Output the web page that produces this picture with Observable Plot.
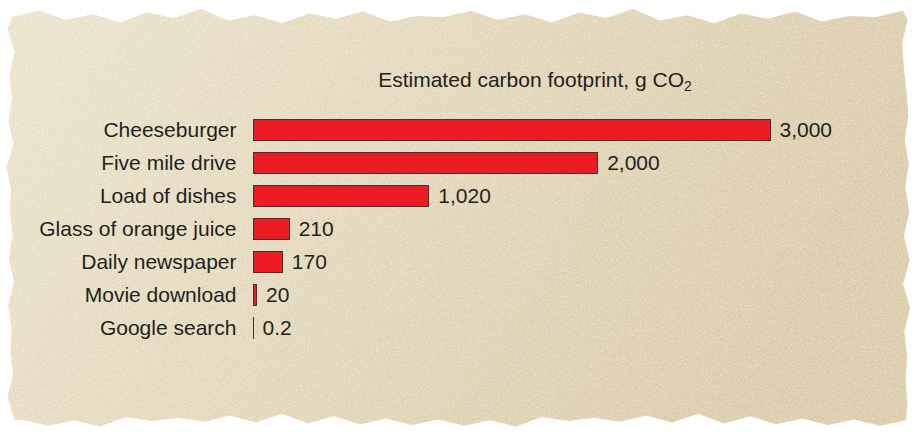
<!DOCTYPE html>
<html><head><meta charset="utf-8">
<script src="https://cdn.jsdelivr.net/npm/d3@7"></script>
<script src="https://cdn.jsdelivr.net/npm/@observablehq/plot@0.6"></script>
<style>
body{margin:0;background:#fff;}
#wrap{position:relative;width:917px;height:434px;overflow:hidden;font-family:"Liberation Sans",Arial,sans-serif;}
#paper{position:absolute;left:0;top:0;}
#chart{position:absolute;left:0;top:0;}
</style></head><body>
<div id="wrap">
<svg id="paper" width="917" height="434">
  <defs>
    <linearGradient id="pg" x1="0" y1="0" x2="1" y2="0.3">
      <stop offset="0" stop-color="#ece4cf"/>
      <stop offset="0.5" stop-color="#e4d9bd"/>
      <stop offset="1" stop-color="#dccdad"/>
    </linearGradient>
    <filter id="tex" x="0" y="0" width="100%" height="100%">
      <feTurbulence type="fractalNoise" baseFrequency="0.55" numOctaves="4" seed="7" result="n"/>
      <feColorMatrix in="n" type="matrix" values="0 0 0 0 1  0 0 0 0 1  0 0 0 0 0.95  2.2 0 0 0 -1.05" result="light"/>
      <feColorMatrix in="n" type="matrix" values="0 0 0 0 0.62  0 0 0 0 0.52  0 0 0 0 0.34  0 -1.8 0 0 0.72" result="dark"/>
      <feMerge result="m"><feMergeNode in="light"/><feMergeNode in="dark"/></feMerge>
      <feComposite in="m" in2="SourceGraphic" operator="in"/>
    </filter>
  </defs>
  <path id="sheet" fill="url(#pg)"/>
  <path id="sheetTex" fill="#000" filter="url(#tex)" opacity="0.5"/>
</svg>
<div id="chart"></div>
</div>
<script>
const categories = ["Cheeseburger","Five mile drive","Load of dishes","Glass of orange juice","Daily newspaper","Movie download","Google search"];
const values = [3000, 2000, 1020, 210, 170, 20, 0.2];
const valueLabels = ["3,000","2,000","1,020","210","170","20","0.2"];
const titleText = "Estimated carbon footprint, g CO";
const titleSub = "2";

// torn paper outline (decorative)
(function(){
  const jag = [0,-7,3,-3,6,-5,1,-9,4,-2,7,-4,2,-6,5,-1];
  const pts = [];
  let i = 0;
  for (let x = 12; x <= 906; x += 27, i++) pts.push([x, 17 + jag[i % 16] * 0.9]);
  for (let y = 20; y <= 420; y += 24, i++) pts.push([907 + jag[(i*3) % 16] * 0.45 - (y > 25 && y < 80 ? 4 : 0), y]);
  for (let x = 906; x >= 12; x -= 26, i++) pts.push([x, 421 + jag[(i*5) % 16] * 0.8]);
  for (let y = 420; y >= 20; y -= 23, i++) pts.push([11 + jag[(i*7) % 16] * 0.5, y]);
  const d = "M" + pts.map(p => p.join(",")).join("L") + "Z";
  document.getElementById("sheet").setAttribute("d", d);
  document.getElementById("sheetTex").setAttribute("d", d);
})();

const data = categories.map((c, i) => ({category: c, value: values[i], label: valueLabels[i]}));

const chart = Plot.plot({
  width: 917,
  height: 434,
  marginLeft: 253,
  marginRight: 147,
  marginTop: 112,
  marginBottom: 89,
  style: {background: "transparent", fontFamily: "'Liberation Sans', Arial, sans-serif", fontSize: "21px", color: "#231f20"},
  x: {domain: [0, 3000], axis: null},
  y: {domain: categories, paddingInner: 0.36, paddingOuter: 0.18, axis: null},
  marks: [
    Plot.barX(data, {x: "value", y: "category", fill: "#ed1c24", stroke: "#3b3536", strokeWidth: 1, shapeRendering: "crispEdges"}),
    Plot.text(data, {x: "value", y: "category", text: "label", textAnchor: "start", dx: 9, fill: "#231f20", fontSize: 21}),
    Plot.axisY({tickSize: 0, tickPadding: 17, fontSize: 21, label: null, fill: "#231f20"})
  ]
});
document.getElementById("chart").appendChild(chart);

const svg = d3.select(chart);
const t = svg.append("text")
  .attr("x", 535).attr("y", 87)
  .attr("text-anchor", "middle")
  .attr("fill", "#231f20")
  .style("font-size", "21px")
  .style("font-family", "'Liberation Sans', Arial, sans-serif");
t.append("tspan").text(titleText);
t.append("tspan").attr("dy", 4).style("font-size", "14px").text(titleSub);
</script>
</body></html>
